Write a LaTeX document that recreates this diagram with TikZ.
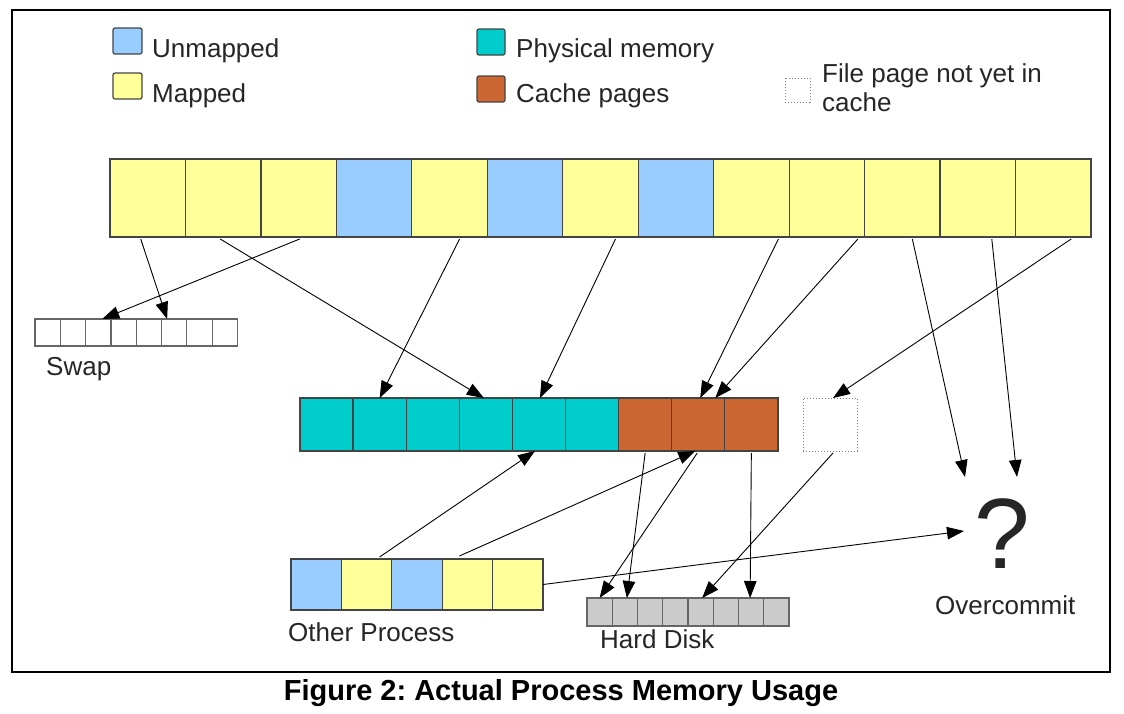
\documentclass[tikz,border=0pt]{standalone}
\usepackage{fontspec}
\setmainfont{Liberation Sans}
\usetikzlibrary{arrows.meta,calc}
\definecolor{cyel}{HTML}{FFFF99}
\definecolor{cblu}{HTML}{99CCFF}
\definecolor{cteal}{HTML}{00CCCC}
\definecolor{corg}{HTML}{CC6633}
\definecolor{cgry}{HTML}{CCCCCC}
\definecolor{cedge}{HTML}{444444}
\definecolor{ctxt}{HTML}{262626}
\definecolor{cdot}{HTML}{808080}
\frenchspacing
\begin{document}
\begin{tikzpicture}[x=1pt,y=-1pt,
  cell/.style={draw=cedge,line width=1.3pt,inner sep=0,outer sep=0,anchor=north west},
  bigcell/.style={cell,minimum width=75.46pt,minimum height=78pt},
  swapcell/.style={cell,draw=black!60,line width=1.2pt,fill=white,minimum width=25.3pt,minimum height=27pt},
  physcell/.style={cell,minimum width=53.1pt,minimum height=53pt},
  othcell/.style={cell,minimum width=50.4pt,minimum height=51pt},
  diskcell/.style={cell,draw=black!60,line width=1.2pt,fill=cgry,minimum width=25.25pt,minimum height=28pt},
  legsq/.style={draw=cedge,line width=1.2pt,rounded corners=2pt},
  arr/.style={-{Triangle[length=17pt,width=12.5pt]},line width=0.9pt,draw=black},
  lbl/.style={font=\fontsize{26}{30}\selectfont,text=ctxt,inner sep=0,anchor=base west}
]
\useasboundingbox (0,0) rectangle (1124,713);
\fill[white] (0,0) rectangle (1124,713);
\draw[line width=1.3pt] (12,10) rectangle (1110,672);

% legend
\draw[legsq,fill=cblu] (113,28) rectangle (142,54);
\node[lbl] (lunm) at (152,57) {Unmapped};
\draw[legsq,fill=cyel] (113,73) rectangle (142,99);
\node[lbl] (lmap) at (152,102) {Mapped};
\draw[legsq,fill=cteal] (477,29) rectangle (505,55);
\node[lbl] (lphy) at (516,57) {Physical memory};
\draw[legsq,fill=corg] (477,76) rectangle (505,102);
\node[lbl] (lcac) at (516,102) {Cache pages};
\draw[draw=cdot,line width=1pt,dotted] (785,78) rectangle (810,102);
\node[lbl] (lfil) at (822,82) {File page not yet in};
\node[lbl] (lfil2) at (822,111) {cache};

% top row
\foreach \c [count=\i] in {cyel,cyel,cyel,cblu,cyel,cblu,cyel,cblu,cyel,cyel,cyel,cyel,cyel}
  \node[bigcell,fill=\c] (t\i) at ({110+(\i-1)*75.46},159) {};

% swap
\foreach \i in {1,...,8}
  \node[swapcell] (s\i) at ({35+(\i-1)*25.3},319) {};
\node[lbl] (lswap) at (46,375) {Swap};

% physical memory
\foreach \c [count=\i] in {cteal,cteal,cteal,cteal,cteal,cteal,corg,corg,corg}
  \node[physcell,fill=\c] (p\i) at ({300+(\i-1)*53.1},398) {};
\node[cell,draw=cdot,line width=1pt,dotted,minimum width=54pt,minimum height=53pt] (dot) at (803,398) {};

% other process
\foreach \c [count=\i] in {cblu,cyel,cblu,cyel,cyel}
  \node[othcell,fill=\c] (o\i) at ({291+(\i-1)*50.4},559) {};
\node[lbl] (loth) at (288,641) {Other Process};

% hard disk
\foreach \i in {1,...,8}
  \node[diskcell] (h\i) at ({587+(\i-1)*25.25},598) {};
\node[lbl] (ldisk) at (600,648) {Hard Disk};

% overcommit
\node[font=\fontsize{100}{100}\selectfont,text=ctxt,inner sep=0,anchor=base] (qm) at (1002,568) {?};
\node[lbl] (lover) at (935,614) {Overcommit};
\coordinate (q1) at (965,477);
\coordinate (q2) at (1017,477);
\coordinate (q3) at (964,531);

% arrows from top row
\draw[arr] ([xshift=-7pt,yshift=-2pt]t1.south) -- ([xshift=-7pt]s6.north);
\draw[arr] ([xshift=1pt,yshift=-2pt]t3.south) -- ([xshift=4pt]s3.north);
\draw[arr] ([xshift=-3pt,yshift=-2pt]t2.south) -- ([xshift=-2pt]p4.north);
\draw[arr] ([xshift=10pt,yshift=-2pt]t5.south) -- (p2.north);
\draw[arr] ([xshift=15pt,yshift=-2pt]t7.south) -- ([xshift=1pt]p5.north);
\draw[arr] ([xshift=27pt,yshift=-2pt]t9.south) -- ([xshift=2pt]p8.north);
\draw[arr] ([xshift=31pt,yshift=-2pt]t10.south) -- ([xshift=17pt]p8.north);
\draw[arr] ([xshift=18pt,yshift=-2pt]t13.south) -- ([xshift=3pt]dot.north);
\draw[arr] ([xshift=10pt,yshift=-2pt]t11.south) -- (q1);
\draw[arr] ([xshift=14pt,yshift=-2pt]t12.south) -- (q2);

% arrows from other process
\draw[arr] ([xshift=13pt,yshift=2pt]o2.north) -- ([xshift=-4pt]p5.south);
\draw[arr] ([xshift=-8pt,yshift=3pt]o4.north) -- ([xshift=-3pt]p8.south);
\draw[arr] (o5.east) -- (q3);

% arrows to hard disk
\draw[arr] ([yshift=-2pt]p7.south) -- ([xshift=2pt]h2.north);
\draw[arr] ([xshift=-1pt,yshift=-2pt]p8.south) -- (h1.north);
\draw[arr] ([yshift=-2pt]p9.south) -- ([xshift=-1pt]h7.north);
\draw[arr] ([xshift=3pt,yshift=-2pt]dot.south) -- ([xshift=1.5pt]h5.north);

% caption
\node[font=\fontsize{29}{34}\selectfont\bfseries,inner sep=0,anchor=base] (cap) at (561,700) {Figure 2: Actual Process Memory Usage};
\end{tikzpicture}
\end{document}
